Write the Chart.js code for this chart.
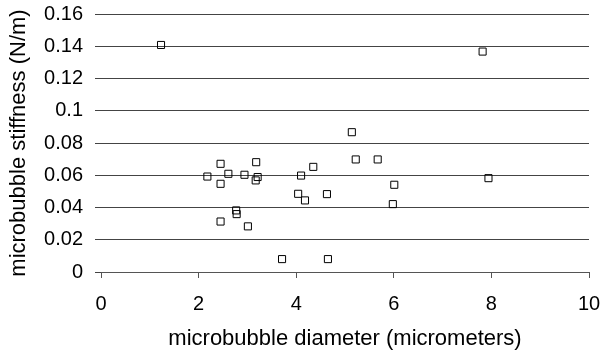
<!DOCTYPE html>
<html>
<head>
<meta charset="utf-8">
<script src="https://cdn.jsdelivr.net/npm/chart.js@4"></script>
<style>
  html, body { margin: 0; padding: 0; background: #fff; }
  #wrap { width: 603px; height: 356px; }
</style>
</head>
<body>
<div id="wrap"><canvas id="chart"></canvas></div>
<script>
// microbubble diameter (micrometers)
const diameters = [
    1.23, 7.82, 5.14, 5.22, 5.67, 4.35, 7.94, 6.01, 4.63, 4.18,
    5.98, 4.65, 4.10, 4.04, 2.18, 2.45, 2.45, 2.61, 2.94, 3.18,
    3.21, 3.17, 2.77, 2.78, 2.45, 3.01, 3.71
];
// microbubble stiffness (N/m)
const stiffness = [
    0.1408, 0.1367, 0.0867, 0.0698, 0.0698, 0.0652, 0.0582, 0.0541, 0.0483, 0.0444,
    0.0421, 0.0080, 0.0598, 0.0485, 0.0592, 0.0671, 0.0547, 0.0609, 0.0603, 0.0681,
    0.0589, 0.0568, 0.0382, 0.0359, 0.0313, 0.0283, 0.0080
];
const xTicks = [0, 2, 4, 6, 8, 10];
const yTicks = [0, 0.02, 0.04, 0.06, 0.08, 0.1, 0.12, 0.14, 0.16];

const points = diameters.map((d, i) => ({ x: d, y: stiffness[i] }));
const tickFont = { family: '"Liberation Sans", Arial, sans-serif', size: 20 };
const titleFont = { family: '"Liberation Sans", Arial, sans-serif', size: 22 };

new Chart(document.getElementById('chart'), {
    type: 'scatter',
    data: {
        datasets: [{
            data: points,
            pointStyle: 'rect',
            pointRadius: 5,
            pointBorderWidth: 1,
            pointBorderColor: '#000',
            pointBackgroundColor: 'rgba(255,255,255,0)'
        }]
    },
    options: {
        responsive: true,
        maintainAspectRatio: false,
        animation: false,
        layout: { padding: { top: 14, right: 14, left: 2, bottom: 0 } },
        plugins: {
            legend: { display: false },
            tooltip: { enabled: false }
        },
        scales: {
            x: {
                type: 'linear',
                min: 0,
                max: 10,
                afterBuildTicks: axis => { axis.ticks = xTicks.map(v => ({ value: v })); },
                afterFit: axis => {
                    axis.height = 84;
                    axis.paddingLeft = 0;
                    axis.paddingRight = 0;
                },
                ticks: { color: '#000', font: tickFont, padding: 14, maxRotation: 0 },
                grid: { display: true, drawOnChartArea: false, drawTicks: true, tickLength: 6, color: '#555' },
                border: { display: true, color: '#555', width: 1 },
                title: { display: true, text: 'microbubble diameter (micrometers)', color: '#000', font: titleFont, padding: { top: 10 } }
            },
            y: {
                type: 'linear',
                min: 0,
                max: 0.16,
                afterBuildTicks: axis => { axis.ticks = yTicks.map(v => ({ value: v })); },
                afterFit: axis => {
                    axis.width = 99;
                    axis.paddingTop = 0;
                    axis.paddingBottom = 0;
                },
                ticks: { color: '#000', font: tickFont, padding: 12, callback: v => String(+v.toFixed(2)) },
                grid: { display: true, drawTicks: true, tickLength: 6, color: '#444', lineWidth: 1 },
                border: { display: false },
                title: { display: true, text: 'microbubble stiffness (N/m)', color: '#000', font: titleFont, padding: { bottom: 0 } }
            }
        }
    }
});
</script>
</body>
</html>
